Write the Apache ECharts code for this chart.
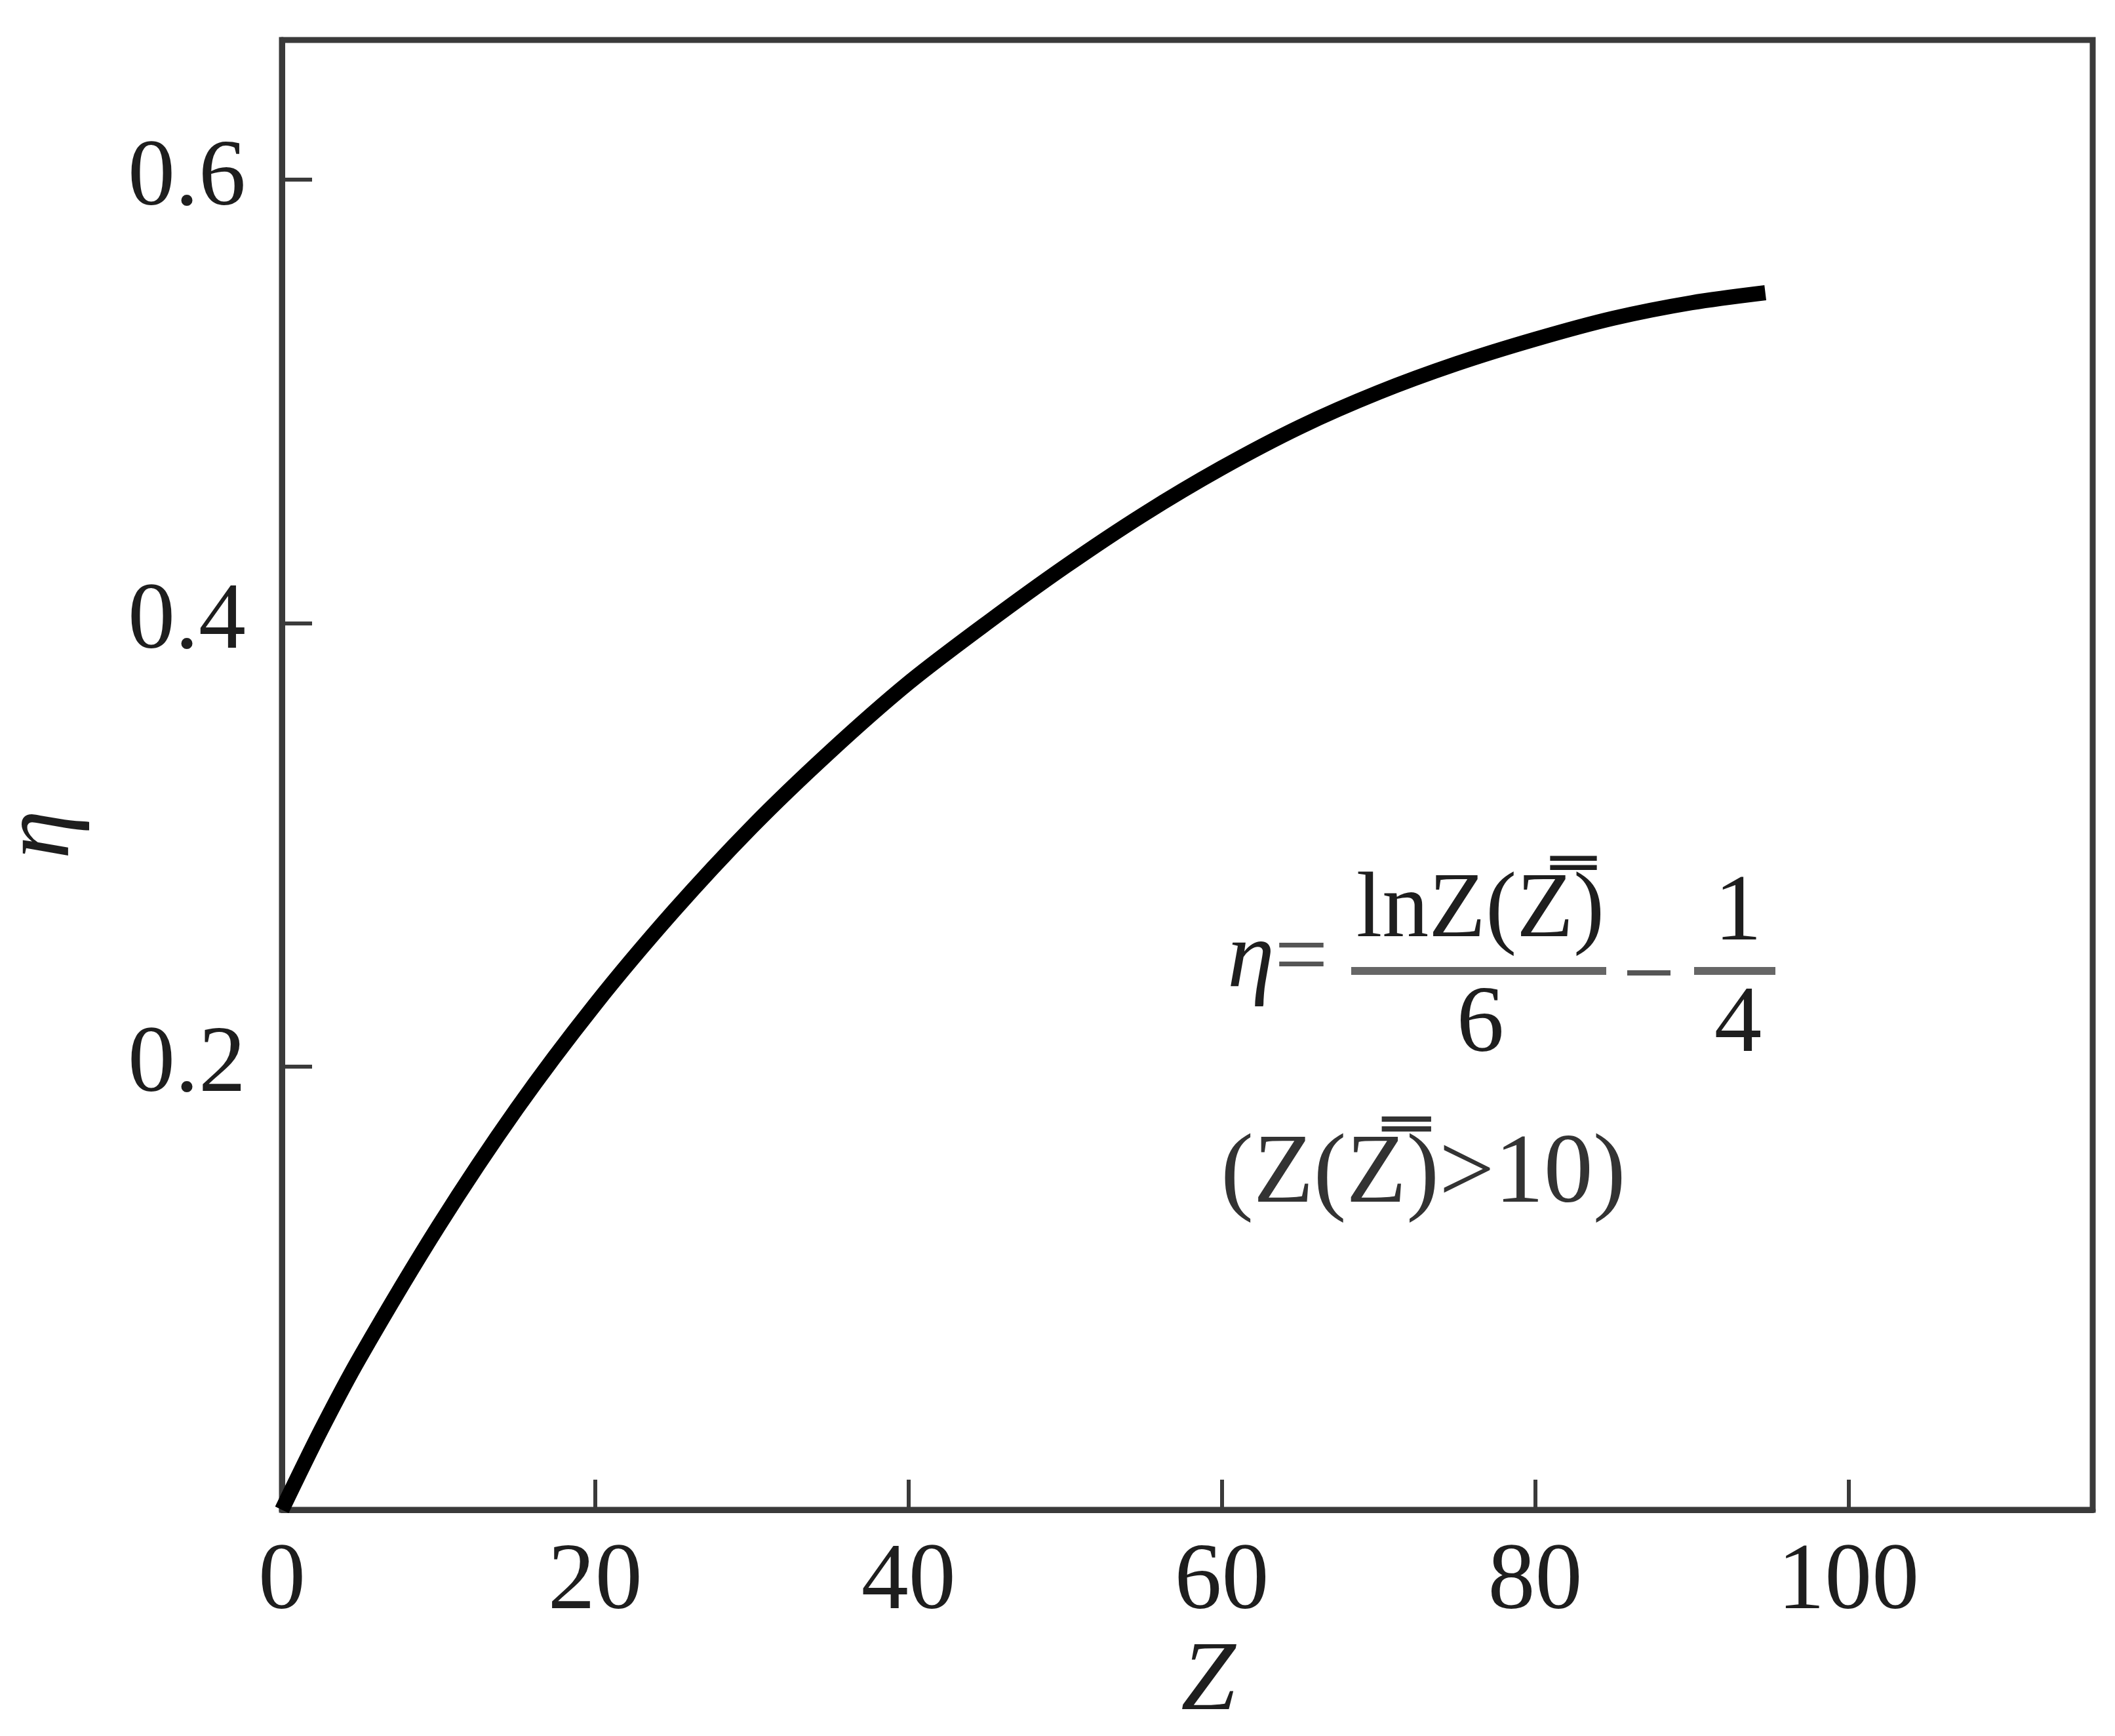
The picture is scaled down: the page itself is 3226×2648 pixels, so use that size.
<!DOCTYPE html>
<html>
<head>
<meta charset="utf-8">
<script src="https://cdn.jsdelivr.net/npm/echarts@6/dist/echarts.min.js"></script>
<style>
html,body{margin:0;padding:0;background:#fff;}
#chart{width:3226px;height:2648px;}
</style>
</head>
<body>
<div id="chart"></div>
<script>
// Data
const zValues   = [0, 2.5, 5, 10, 15, 20, 25, 30, 35, 40, 45, 50, 55, 60, 65, 70, 75, 80, 85, 90, 94.7];
const etaValues = [0, 0.036, 0.069, 0.128, 0.181, 0.228, 0.270, 0.308, 0.342, 0.373, 0.400, 0.4255, 0.449, 0.470, 0.4885, 0.504, 0.517, 0.528, 0.5375, 0.5445, 0.549];
const xTickLabels = ['0', '20', '40', '60', '80', '100'];
const yTickLabels = ['0.2', '0.4', '0.6'];
const xAxisTitle = 'Z';
const yAxisTitle = 'η';
const formulaLHS = 'η';
const formulaNum = 'lnZ(Z\u033F)';
const formulaDen = '6';
const formulaNum2 = '1';
const formulaDen2 = '4';
const conditionText = '(Z(Z\u033F)>10)';

const FONT = "'Liberation Serif','Times New Roman','DejaVu Serif',serif";
const AXIS_COLOR = '#3a3a3a';
const TEXT_COLOR = '#1e1e1e';

const seriesData = zValues.map((z, i) => [z, etaValues[i]]);

const chart = echarts.init(document.getElementById('chart'), null, {renderer: 'canvas'});
chart.setOption({
  backgroundColor: '#ffffff',
  animation: false,
  grid: {
    left: 430, right: 34, top: 61, bottom: 345,
    show: true, borderColor: AXIS_COLOR, borderWidth: 9,
    containLabel: false, outerBoundsMode: 'none'
  },
  xAxis: {
    type: 'value', min: 0, max: 115.6, interval: 20,
    name: xAxisTitle, nameLocation: 'middle', nameGap: 190,
    nameTextStyle: {fontFamily: FONT, fontStyle: 'italic', fontSize: 150, color: TEXT_COLOR, padding: [0, 0, 0, 64]},
    axisLine: {show: true, lineStyle: {color: AXIS_COLOR, width: 9}},
    axisTick: {show: true, inside: true, length: 46, lineStyle: {color: AXIS_COLOR, width: 6}},
    axisLabel: {
      show: true, margin: 40, fontFamily: FONT, fontSize: 144, color: TEXT_COLOR,
      showMaxLabel: false,
      formatter: function (v) { const s = String(Math.round(v)); return xTickLabels.indexOf(s) >= 0 ? s : ''; }
    },
    splitLine: {show: false}
  },
  yAxis: {
    type: 'value', min: 0, max: 0.663, interval: 0.2,
    name: yAxisTitle, nameLocation: 'middle', nameGap: 290, nameRotate: 90,
    nameTextStyle: {fontFamily: FONT, fontStyle: 'italic', fontSize: 150, color: TEXT_COLOR, padding: [0, 182, 0, 0]},
    axisLine: {show: true, lineStyle: {color: AXIS_COLOR, width: 9}},
    axisTick: {show: true, inside: true, length: 46, lineStyle: {color: AXIS_COLOR, width: 6}},
    axisLabel: {
      show: true, margin: 55, fontFamily: FONT, fontSize: 144, color: TEXT_COLOR,
      showMinLabel: false, showMaxLabel: false,
      formatter: function (v) { const s = (Math.round(v * 10) / 10).toFixed(1); return yTickLabels.indexOf(s) >= 0 ? s : ''; }
    },
    splitLine: {show: false}
  },
  series: [{
    type: 'line', data: seriesData, smooth: 0.3, showSymbol: false,
    lineStyle: {color: '#000000', width: 23, cap: 'butt'},
    z: 3
  }],
  graphic: [
    {type: 'text', x: 1872, y: 1466, style: {
      text: '{i|' + formulaLHS + '}{r|=}',
      rich: {
        i: {fontFamily: FONT, fontStyle: 'italic', fontSize: 145, fill: TEXT_COLOR},
        r: {fontFamily: FONT, fontSize: 145, fill: '#555'}
      },
      textAlign: 'left', textVerticalAlign: 'middle'
    }},
    {type: 'text', x: 2258, y: 1391, style: {text: formulaNum, font: '142px ' + FONT, fill: TEXT_COLOR, textAlign: 'center', textVerticalAlign: 'middle'}},
    {type: 'line', shape: {x1: 2061, y1: 1481, x2: 2450, y2: 1481}, style: {stroke: '#666', lineWidth: 12}},
    {type: 'text', x: 2258, y: 1565, style: {text: formulaDen, font: '145px ' + FONT, fill: TEXT_COLOR, textAlign: 'center', textVerticalAlign: 'middle'}},
    {type: 'line', shape: {x1: 2482, y1: 1484, x2: 2548, y2: 1484}, style: {stroke: '#555', lineWidth: 8}},
    {type: 'text', x: 2651, y: 1395, style: {text: formulaNum2, font: '145px ' + FONT, fill: TEXT_COLOR, textAlign: 'center', textVerticalAlign: 'middle'}},
    {type: 'line', shape: {x1: 2584, y1: 1481, x2: 2708, y2: 1481}, style: {stroke: '#666', lineWidth: 12}},
    {type: 'text', x: 2651, y: 1565, style: {text: formulaDen2, font: '145px ' + FONT, fill: TEXT_COLOR, textAlign: 'center', textVerticalAlign: 'middle'}},
    {type: 'text', x: 1862, y: 1794, style: {text: conditionText, font: '150px ' + FONT, fill: '#333', textAlign: 'left', textVerticalAlign: 'middle'}}
  ]
});
</script>
</body>
</html>
